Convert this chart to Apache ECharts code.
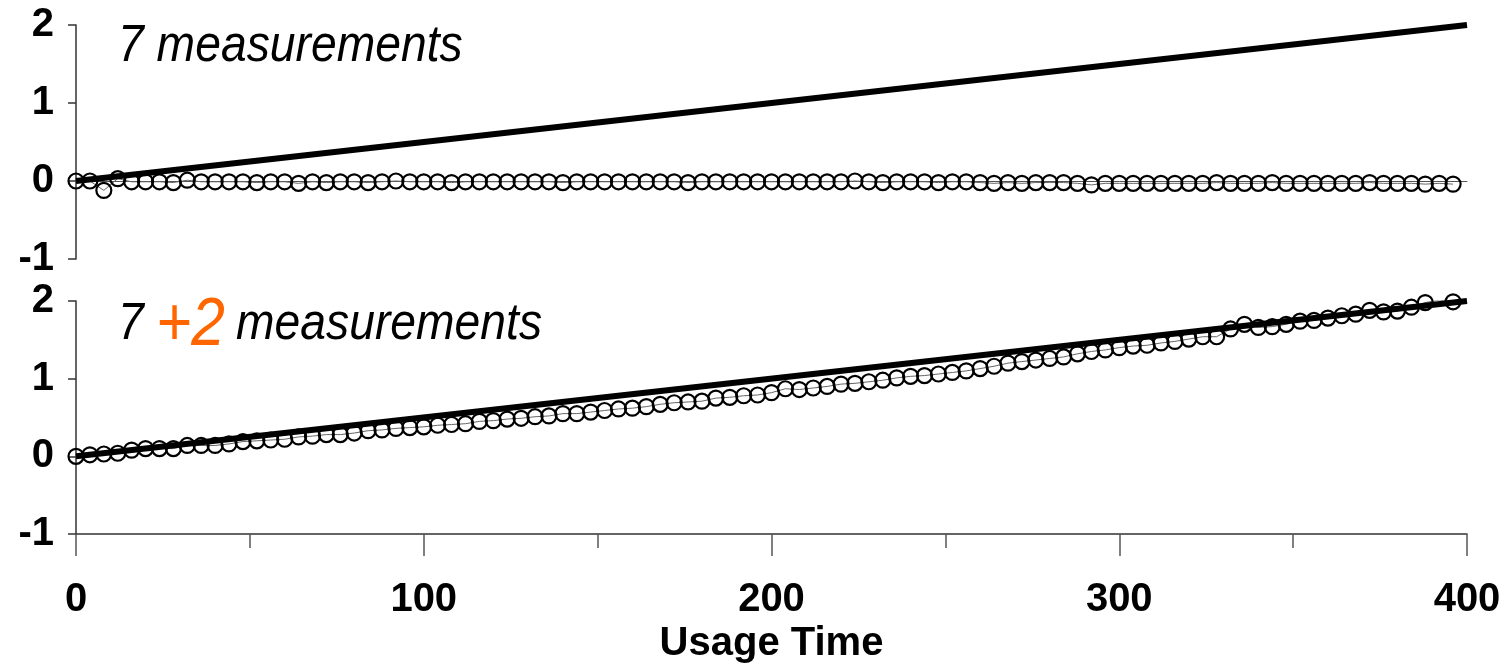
<!DOCTYPE html>
<html>
<head>
<meta charset="utf-8">
<script src="https://cdn.jsdelivr.net/npm/echarts@6/dist/echarts.min.js"></script>
<style>
html,body{margin:0;padding:0;background:#fff;}
#chart{width:1506px;height:665px;}
</style>
</head>
<body>
<div id="chart"></div>
<script>
// Usage time of each measurement point
const usageTime = [];
for (let i = 0; i < 100; i++) usageTime.push(i * 4);

// Top panel: estimated values with 7 measurements
const topValues = [
  0.00, 0.00,-0.12, 0.03,-0.01,-0.01,-0.01,-0.02, 0.01,-0.01,
 -0.01,-0.01,-0.01,-0.02,-0.01,-0.01,-0.03,-0.01,-0.02,-0.01,
 -0.01,-0.02,-0.01, 0.00,-0.01,-0.01,-0.01,-0.02,-0.01,-0.01,
 -0.01,-0.01,-0.01,-0.01,-0.01,-0.02,-0.01,-0.01,-0.01,-0.01,
 -0.01,-0.01,-0.01,-0.01,-0.02,-0.01,-0.01,-0.01,-0.01,-0.01,
 -0.01,-0.01,-0.01,-0.01,-0.01,-0.01, 0.00,-0.01,-0.02,-0.01,
 -0.01,-0.01,-0.02,-0.01,-0.01,-0.02,-0.03,-0.02,-0.03,-0.02,
 -0.02,-0.02,-0.03,-0.05,-0.03,-0.03,-0.03,-0.03,-0.03,-0.03,
 -0.03,-0.03,-0.02,-0.03,-0.03,-0.03,-0.02,-0.03,-0.03,-0.03,
 -0.03,-0.03,-0.03,-0.02,-0.03,-0.03,-0.03,-0.04,-0.03,-0.04
];

// Bottom panel: estimated values with 7+2 measurements
const bottomValues = [
  0.00, 0.02, 0.03, 0.04, 0.08, 0.10, 0.10, 0.10, 0.14, 0.14,
  0.14, 0.16, 0.19, 0.20, 0.21, 0.22, 0.25, 0.26, 0.28, 0.28,
  0.30, 0.33, 0.34, 0.36, 0.37, 0.38, 0.40, 0.41, 0.42, 0.45,
  0.46, 0.48, 0.49, 0.51, 0.52, 0.55, 0.55, 0.57, 0.59, 0.61,
  0.62, 0.64, 0.67, 0.69, 0.70, 0.71, 0.75, 0.76, 0.78, 0.79,
  0.82, 0.87, 0.86, 0.88, 0.90, 0.93, 0.94, 0.96, 0.98, 1.01,
  1.03, 1.04, 1.06, 1.08, 1.10, 1.13, 1.16, 1.20, 1.22, 1.24,
  1.26, 1.28, 1.32, 1.35, 1.37, 1.40, 1.42, 1.43, 1.46, 1.48,
  1.51, 1.54, 1.54, 1.64, 1.70, 1.66, 1.67, 1.70, 1.74, 1.75,
  1.78, 1.81, 1.83, 1.88, 1.86, 1.87, 1.92, 1.98, 2.01, 1.99
];

// True trend line endpoints
const trendX = [0, 400];
const trendY = [0, 2];

const xTicks = [0, 100, 200, 300, 400];
const yTicks = [-1, 0, 1, 2];

const pairs = (xs, ys) => xs.map((x, i) => [x, ys[i]]);

const labelFont = {fontFamily: 'Liberation Sans, Arial, sans-serif', fontWeight: 'bold', fontSize: 40, color: '#000'};
const axisColor = '#333';
const titleFont = 'italic 52px "Liberation Sans", Arial, sans-serif';
const bigFont = 'italic 68px "Liberation Sans", Arial, sans-serif';
const sx = 0.89;

function yAxis(gridIndex) {
  return {
    type: 'value', gridIndex, min: -1, max: 2, interval: 1,
    axisLine: {show: true, lineStyle: {color: axisColor, width: 1.5}},
    axisTick: {show: true, length: 8, lineStyle: {color: axisColor, width: 1.5}},
    axisLabel: Object.assign({margin: 22, lineHeight: 40, padding: [6, 0, 0, 0]}, labelFont),
    splitLine: {show: false}
  };
}

function dataSeries(idx, values) {
  return {
    type: 'line', xAxisIndex: idx, yAxisIndex: idx,
    data: pairs(usageTime, values),
    symbol: 'circle', symbolSize: 15, showAllSymbol: true,
    itemStyle: {color: 'rgba(0,0,0,0)', borderColor: '#000', borderWidth: 2.2},
    lineStyle: {color: '#666', width: 1},
    z: 2, animation: false
  };
}
function trendSeries(idx) {
  return {
    type: 'line', xAxisIndex: idx, yAxisIndex: idx,
    data: pairs(trendX, trendY), symbol: 'none',
    lineStyle: {color: '#000', width: 6},
    z: 3, animation: false
  };
}

const chart = echarts.init(document.getElementById('chart'));
chart.setOption({
  backgroundColor: '#fff',
  animation: false,
  grid: [
    {left: 76, right: 39, top: 25, height: 234},
    {left: 76, right: 39, top: 301, height: 234}
  ],
  xAxis: [
    {
      type: 'value', gridIndex: 0, min: 0, max: 400, interval: 100,
      axisLine: {show: true, onZero: true, lineStyle: {color: '#555', width: 1}},
      axisTick: {show: false}, axisLabel: {show: false}, splitLine: {show: false}
    },
    {
      type: 'value', gridIndex: 1, min: 0, max: 400, interval: 100,
      axisLine: {show: true, onZero: false, lineStyle: {color: axisColor, width: 1.5}},
      axisTick: {show: true, length: 22, lineStyle: {color: '#555', width: 1.5}},
      minorTick: {show: true, splitNumber: 2, length: 14, lineStyle: {color: '#555', width: 1.5}},
      axisLabel: Object.assign({margin: 46}, labelFont),
      splitLine: {show: false},
      name: 'Usage Time', nameLocation: 'middle', nameGap: 90,
      nameTextStyle: labelFont
    }
  ],
  yAxis: [yAxis(0), yAxis(1)],
  series: [
    dataSeries(0, topValues), trendSeries(0),
    dataSeries(1, bottomValues), trendSeries(1)
  ],
  graphic: [
    {type: 'text', x: 118, y: 21, scaleX: sx, style: {text: '7 measurements', font: titleFont, fill: '#000'}},
    {type: 'text', x: 118, y: 299, scaleX: sx, style: {text: '7', font: titleFont, fill: '#000'}},
    {type: 'text', x: 156, y: 292, scaleX: sx, style: {text: '+2', font: bigFont, fill: '#FF6600'}},
    {type: 'text', x: 236, y: 299, scaleX: sx, style: {text: 'measurements', font: titleFont, fill: '#000'}}
  ]
});
</script>
</body>
</html>
